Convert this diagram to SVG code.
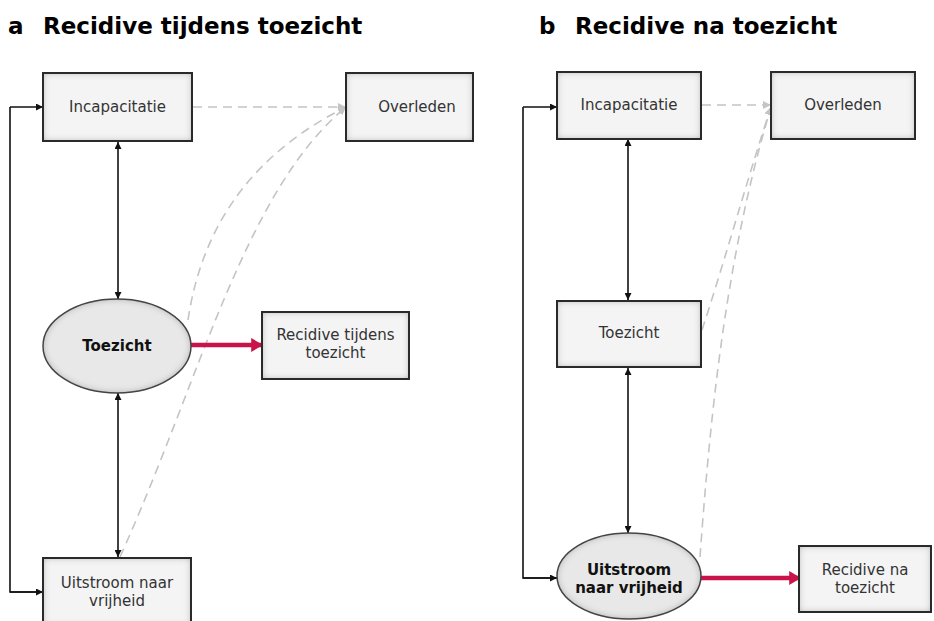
<svg xmlns="http://www.w3.org/2000/svg" width="934" height="621" viewBox="0 0 934 621">
<style>
.title{font-family:"DejaVu Sans",Verdana,sans-serif;font-weight:bold;font-size:23px;fill:#000}
.lbl{font-family:"DejaVu Sans",Verdana,sans-serif;font-size:15px;fill:#333;text-anchor:middle}
.blbl{font-family:"DejaVu Sans",Verdana,sans-serif;font-size:15px;font-weight:bold;fill:#111;text-anchor:middle}
.boxf{fill:#f4f4f4;filter:url(#inset)}
.boxs{fill:none;stroke:#2a2a2a;stroke-width:2}
.ellf{fill:#e8e8e8;filter:url(#inset)}
.ells{fill:none;stroke:#444;stroke-width:1.5}
.blk{fill:none;stroke:#111;stroke-width:1.6}
.dash{fill:none;stroke:#c4c4c4;stroke-width:1.6;stroke-dasharray:9 6}
.red{fill:none;stroke:#c8144b;stroke-width:4.5}
</style>
<defs>
<filter id="inset" x="-10%" y="-10%" width="120%" height="120%">
<feFlood flood-color="#000" flood-opacity="0.55"/>
<feComposite in2="SourceAlpha" operator="out"/>
<feGaussianBlur stdDeviation="3.5"/>
<feComposite in2="SourceAlpha" operator="in" result="sh"/>
<feMerge><feMergeNode in="SourceGraphic"/><feMergeNode in="sh"/></feMerge>
</filter>
<marker id="ab" viewBox="0 0 10 10" refX="10" refY="5" markerWidth="7" markerHeight="7" markerUnits="userSpaceOnUse" orient="auto-start-reverse"><path d="M0,0L10,5L0,10z" fill="#111"/></marker>
<marker id="ag" viewBox="0 0 10 10" refX="10" refY="5" markerWidth="8" markerHeight="8" markerUnits="userSpaceOnUse" orient="auto"><path d="M0,0L10,5L0,10z" fill="#c4c4c4"/></marker>
<marker id="ar" viewBox="0 0 10 10" refX="9" refY="5" markerWidth="12" markerHeight="14" markerUnits="userSpaceOnUse" orient="auto" preserveAspectRatio="none"><path d="M0,0L10,5L0,10z" fill="#c8144b"/></marker>
</defs>
<rect width="934" height="621" fill="#fff"/>
<g id="titles">
<text class="title" x="8" y="34">a</text>
<text class="title" x="43" y="34">Recidive tijdens toezicht</text>
<text class="title" x="539" y="34">b</text>
<text class="title" x="575" y="34">Recidive na toezicht</text>
</g>
<g id="connectors">
<polyline class="blk" points="43,592 10,592 10,107" />
<line class="blk" x1="10" y1="592" x2="43" y2="592" marker-end="url(#ab)"/>
<line class="blk" x1="10" y1="107" x2="43" y2="107" marker-end="url(#ab)"/>
<line class="blk" x1="118" y1="142" x2="118" y2="299" marker-start="url(#ab)" marker-end="url(#ab)"/>
<line class="blk" x1="118" y1="393" x2="118" y2="557" marker-start="url(#ab)" marker-end="url(#ab)"/>
<line class="dash" x1="193" y1="107" x2="346" y2="107" marker-end="url(#ag)"/>
<path class="dash" d="M188,320 C200,240 240,160 346,107" marker-end="url(#ag)"/>
<path class="dash" d="M120,557 C200,380 245,190 346,107" marker-end="url(#ag)"/>
<line class="red" x1="191" y1="345" x2="262" y2="345" marker-end="url(#ar)"/>
<polyline class="blk" points="557,578 523,578 523,107" />
<line class="blk" x1="523" y1="107" x2="557" y2="107" marker-end="url(#ab)"/>
<line class="blk" x1="523" y1="578" x2="557" y2="578" marker-end="url(#ab)"/>
<line class="blk" x1="628" y1="139" x2="628" y2="300" marker-start="url(#ab)" marker-end="url(#ab)"/>
<line class="blk" x1="628" y1="368" x2="628" y2="533" marker-start="url(#ab)" marker-end="url(#ab)"/>
<line class="dash" x1="702" y1="105" x2="771" y2="105" marker-end="url(#ag)"/>
<path class="dash" d="M702,330 C725,260 750,170 771,107" marker-end="url(#ag)"/>
<path class="dash" d="M700,557 C710,420 725,260 771,107" marker-end="url(#ag)"/>
<line class="red" x1="701" y1="578" x2="800" y2="578" marker-end="url(#ar)"/>
</g>
<g id="a-incapacitatie">
<rect class="boxf" x="43" y="73" width="149" height="68"/>
<rect class="boxs" x="43" y="73" width="149" height="68"/>
<text class="lbl" x="117.5" y="112">Incapacitatie</text>
</g>
<g id="a-overleden">
<rect class="boxf" x="346" y="73" width="127" height="68"/>
<rect class="boxs" x="346" y="73" width="127" height="68"/>
<text class="lbl" x="417" y="112">Overleden</text>
</g>
<g id="a-toezicht">
<ellipse class="ellf" cx="117" cy="346" rx="74" ry="47"/>
<ellipse class="ells" cx="117" cy="346" rx="74" ry="47"/>
<text class="blbl" x="117" y="351">Toezicht</text>
</g>
<g id="a-recidive">
<rect class="boxf" x="262" y="312" width="147" height="67"/>
<rect class="boxs" x="262" y="312" width="147" height="67"/>
<text class="lbl" x="335.5" y="340">Recidive tijdens</text>
<text class="lbl" x="335.5" y="358">toezicht</text>
</g>
<g id="a-uitstroom">
<rect class="boxf" x="43" y="558" width="148" height="68"/>
<rect class="boxs" x="43" y="558" width="148" height="68"/>
<text class="lbl" x="117" y="588">Uitstroom naar</text>
<text class="lbl" x="117" y="606">vrijheid</text>
</g>
<g id="b-incapacitatie">
<rect class="boxf" x="557" y="72" width="144" height="67"/>
<rect class="boxs" x="557" y="72" width="144" height="67"/>
<text class="lbl" x="629" y="110">Incapacitatie</text>
</g>
<g id="b-overleden">
<rect class="boxf" x="771" y="72" width="144" height="67"/>
<rect class="boxs" x="771" y="72" width="144" height="67"/>
<text class="lbl" x="843" y="110">Overleden</text>
</g>
<g id="b-toezicht">
<rect class="boxf" x="557" y="301" width="144" height="66"/>
<rect class="boxs" x="557" y="301" width="144" height="66"/>
<text class="lbl" x="629" y="338">Toezicht</text>
</g>
<g id="b-uitstroom">
<ellipse class="ellf" cx="629" cy="576" rx="72" ry="43"/>
<ellipse class="ells" cx="629" cy="576" rx="72" ry="43"/>
<text class="blbl" x="629" y="575">Uitstroom</text>
<text class="blbl" x="629" y="593">naar vrijheid</text>
</g>
<g id="b-recidive">
<rect class="boxf" x="799" y="546" width="132" height="66"/>
<rect class="boxs" x="799" y="546" width="132" height="66"/>
<text class="lbl" x="865" y="575">Recidive na</text>
<text class="lbl" x="865" y="593">toezicht</text>
</g>
</svg>
